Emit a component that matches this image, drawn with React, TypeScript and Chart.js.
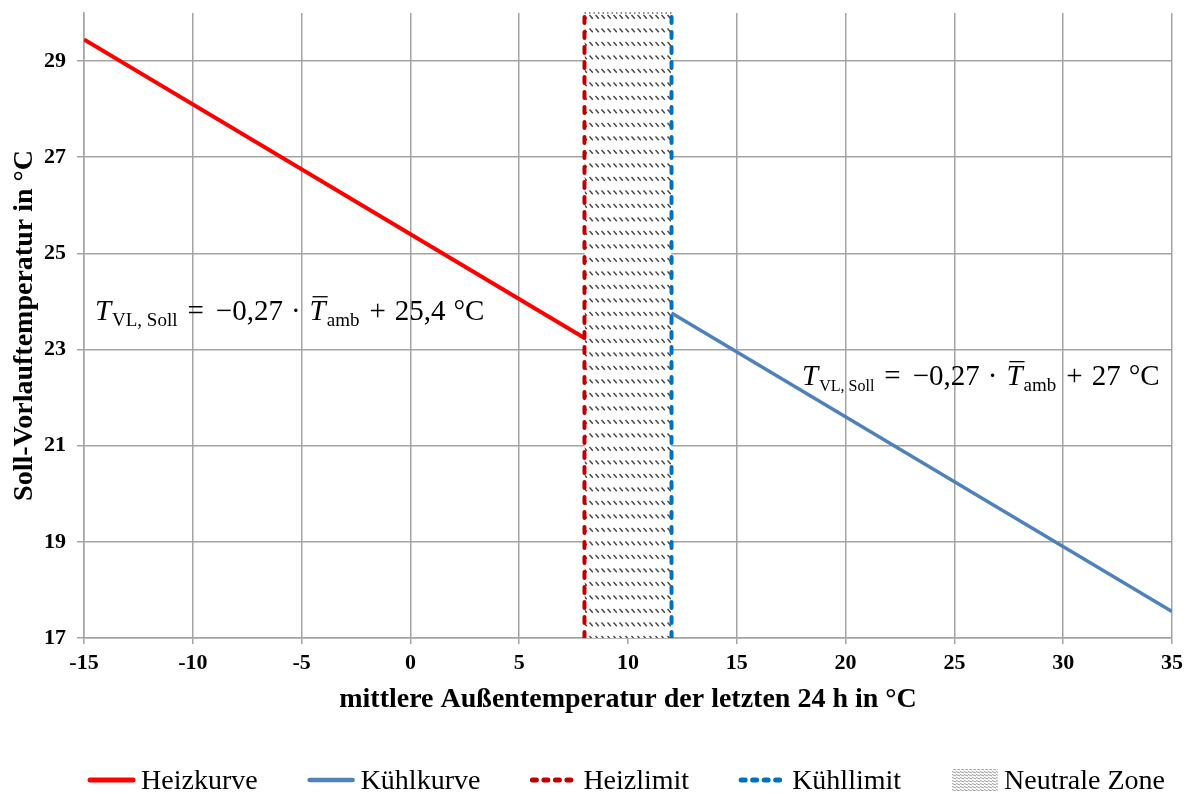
import React, { useEffect, useRef } from 'react';
import { Chart, registerables } from 'chart.js';

Chart.register(...registerables);

// ---- data ----
const xTickValues = [-15, -10, -5, 0, 5, 10, 15, 20, 25, 30, 35];
const yTickValues = [17, 19, 21, 23, 25, 27, 29];
const xRange = [-15, 35];
const yRange = [17, 30];

const heizkurveX = [-15, 8];
const heizkurveY = [29.45, 23.24];
const kuehlkurveX = [12, 35];
const kuehlkurveY = [23.76, 17.55];
const heizlimitX = [8, 8];
const kuehllimitX = [12, 12];
const limitY = [17, 30];
const neutralZoneX = [8, 12];
const neutralZoneY = [30, 30];

const seriesLabels = ['Heizkurve', 'Kühlkurve', 'Heizlimit', 'Kühllimit', 'Neutrale Zone'];
const xTitle = 'mittlere Außentemperatur der letzten 24 h in °C';
const yTitle = 'Soll-Vorlauftemperatur in °C';

const formulaSlope = '−0,27';
const formulaHeizConst = '25,4';
const formulaKuehlConst = '27';
const formulaHeizAnchor = [-14.5, 23.62];
const formulaKuehlAnchor = [18.0, 22.27];

// ---- styles ----
const SERIF = '"Liberation Serif", "Times New Roman", serif';
const GRID = '#a3a3a3';

const zip = (xs: number[], ys: number[]) => xs.map((x, i) => ({ x, y: ys[i] }));

function makeZonePattern(ctx: CanvasRenderingContext2D) {
  const c = document.createElement('canvas');
  c.width = 6;
  c.height = 27;
  const g = c.getContext('2d')!;
  g.fillStyle = '#ffffff';
  g.fillRect(0, 0, 6, 27);
  g.strokeStyle = '#444444';
  g.lineWidth = 1.4;
  g.lineCap = 'butt';
  for (const cy of [3.5, 17]) {
    g.beginPath();
    g.moveTo(1.5, cy - 2);
    g.lineTo(4.8, cy + 1.8);
    g.stroke();
  }
  return ctx.createPattern(c, 'repeat')!;
}

function makeLegendPattern(ctx: CanvasRenderingContext2D) {
  const c = document.createElement('canvas');
  c.width = 4;
  c.height = 3;
  const g = c.getContext('2d')!;
  g.fillStyle = '#ffffff';
  g.fillRect(0, 0, 4, 3);
  g.strokeStyle = '#9a9a9a';
  g.lineWidth = 1;
  g.beginPath();
  g.moveTo(0, 0.5);
  g.lineTo(4, 2);
  g.stroke();
  return ctx.createPattern(c, 'repeat')!;
}

function drawFormula(ctx: CanvasRenderingContext2D, x0: number, y0: number, konst: string, subSize: number) {
  const main = `29px ${SERIF}`;
  const ital = `italic 29px ${SERIF}`;
  const sub1 = `${subSize}px ${SERIF}`;
  const sub = `19px ${SERIF}`;
  const parts = [
    { t: 'T', f: ital, gap: 0, dy: 0, bar: false },
    { t: 'VL, Soll', f: sub1, gap: 1, dy: 6, bar: false },
    { t: '=', f: main, gap: 10, dy: 0, bar: false },
    { t: formulaSlope, f: main, gap: 12, dy: 0, bar: false },
    { t: '·', f: main, gap: 8, dy: 0, bar: false },
    { t: 'T', f: ital, gap: 9, dy: 0, bar: true },
    { t: 'amb', f: sub, gap: 1, dy: 6, bar: false },
    { t: '+', f: main, gap: 10, dy: 0, bar: false },
    { t: konst, f: main, gap: 9, dy: 0, bar: false },
    { t: '°C', f: main, gap: 8, dy: 0, bar: false },
  ];
  ctx.save();
  ctx.fillStyle = '#000';
  ctx.textBaseline = 'alphabetic';
  ctx.textAlign = 'left';
  let x = x0;
  for (const p of parts) {
    x += p.gap;
    ctx.font = p.f;
    ctx.fillText(p.t, x, y0 + p.dy);
    const w = ctx.measureText(p.t).width;
    if (p.bar) {
      ctx.strokeStyle = '#000';
      ctx.lineWidth = 1.3;
      ctx.beginPath();
      ctx.moveTo(x + 3, y0 - 23);
      ctx.lineTo(x + w + 2, y0 - 23);
      ctx.stroke();
    }
    x += w;
  }
  ctx.restore();
}

const overlayPlugin = {
  id: 'overlay',
  afterDatasetsDraw(chart: any) {
    const { ctx, scales } = chart;
    drawFormula(ctx, scales.x.getPixelForValue(formulaHeizAnchor[0]), scales.y.getPixelForValue(formulaHeizAnchor[1]), formulaHeizConst, 19);
    drawFormula(ctx, scales.x.getPixelForValue(formulaKuehlAnchor[0]), scales.y.getPixelForValue(formulaKuehlAnchor[1]), formulaKuehlConst, 16);
  },
  afterDraw(chart: any) {
    const { ctx, chartArea } = chart;
    const ds = chart.data.datasets;
    const sample = 49;
    const g1 = 5;
    const g2 = 49;
    ctx.save();
    ctx.font = `28px ${SERIF}`;
    const widths = ds.map((d: any) => ctx.measureText(d.label).width);
    let total = 0;
    widths.forEach((w: number) => (total += sample + g1 + w));
    total += g2 * (ds.length - 1);
    let x = (chartArea.left + chartArea.right) / 2 - 2 - total / 2;
    const yLine = 780;
    const yBase = 789;
    ds.forEach((d: any, i: number) => {
      if (d.legendBox) {
        ctx.fillStyle = makeLegendPattern(ctx);
        ctx.fillRect(x + 2, yLine - 11, sample - 3, 22);
      } else {
        ctx.strokeStyle = d.borderColor;
        ctx.lineWidth = d.borderWidth + 1;
        ctx.lineCap = 'round';
        ctx.setLineDash(d.borderDash ? [4, 7.5] : []);
        ctx.beginPath();
        ctx.moveTo(x + 3, yLine);
        ctx.lineTo(x + sample - 3, yLine);
        ctx.stroke();
        ctx.setLineDash([]);
      }
      x += sample + g1;
      ctx.fillStyle = '#000';
      ctx.textBaseline = 'alphabetic';
      ctx.fillText(d.label, x, yBase);
      x += widths[i] + g2;
    });
    ctx.restore();
  },
};

export default function App() {
  const ref = useRef<HTMLCanvasElement>(null);
  useEffect(() => {
    const canvas = ref.current!;
    const ctx = canvas.getContext('2d')!;
    const chart = new Chart(ctx, {
      type: 'line',
      data: {
        datasets: [
          {
            label: seriesLabels[0],
            data: zip(heizkurveX, heizkurveY),
            borderColor: '#ff0000',
            borderWidth: 4,
            pointRadius: 0,
            fill: false,
            order: 2,
          },
          {
            label: seriesLabels[1],
            data: zip(kuehlkurveX, kuehlkurveY),
            borderColor: '#4f81bd',
            borderWidth: 3.5,
            pointRadius: 0,
            fill: false,
            order: 2,
          },
          {
            label: seriesLabels[2],
            data: zip(heizlimitX, limitY),
            borderColor: '#c00000',
            borderWidth: 4,
            borderDash: [6, 9],
            borderCapStyle: 'round',
            pointRadius: 0,
            fill: false,
            order: 1,
          },
          {
            label: seriesLabels[3],
            data: zip(kuehllimitX, limitY),
            borderColor: '#0070c0',
            borderWidth: 4,
            borderDash: [6, 9],
            borderCapStyle: 'round',
            pointRadius: 0,
            fill: false,
            order: 1,
          },
          {
            label: seriesLabels[4],
            data: zip(neutralZoneX, neutralZoneY),
            borderColor: '#666666',
            borderWidth: 1.5,
            borderDash: [1.5, 3],
            backgroundColor: makeZonePattern(ctx),
            pointRadius: 0,
            fill: 'start',
            clip: 6,
            order: 5,
            legendBox: true,
          } as any,
        ],
      },
      options: {
        responsive: false,
        animation: false,
        devicePixelRatio: 1,
        layout: { padding: { left: 0, top: 13, right: 20, bottom: 76 } },
        plugins: { legend: { display: false }, tooltip: { enabled: false } },
        scales: {
          x: {
            type: 'linear',
            min: xRange[0],
            max: xRange[1],
            afterBuildTicks: (s: any) => {
              s.ticks = xTickValues.map((v) => ({ value: v }));
            },
            afterFit: (s: any) => {
              s.height = 80;
              s.paddingLeft = 0;
              s.paddingRight = 0;
            },
            grid: { color: GRID, lineWidth: 1.5, tickLength: 6, drawTicks: true },
            border: { color: GRID, width: 1.5 },
            ticks: {
              font: { family: SERIF, size: 22, weight: 'bold' },
              color: '#000',
              padding: 6,
              maxRotation: 0,
              autoSkip: false,
            },
            title: {
              display: true,
              text: xTitle,
              color: '#000',
              font: { family: SERIF, size: 28, weight: 'bold', lineHeight: 1 },
              padding: { top: 0, bottom: 4 },
            },
          },
          y: {
            type: 'linear',
            min: yRange[0],
            max: yRange[1],
            afterBuildTicks: (s: any) => {
              s.ticks = yTickValues.map((v) => ({ value: v }));
            },
            afterFit: (s: any) => {
              s.width = 84;
              s.paddingTop = 0;
              s.paddingBottom = 0;
            },
            grid: { color: GRID, lineWidth: 1.5, tickLength: 7, drawTicks: true },
            border: { color: GRID, width: 1.5 },
            ticks: {
              font: { family: SERIF, size: 22, weight: 'bold' },
              color: '#000',
              padding: 11,
              autoSkip: false,
            },
            title: {
              display: true,
              text: yTitle,
              color: '#000',
              font: { family: SERIF, size: 28, weight: 'bold', lineHeight: 1 },
              padding: { top: 11, bottom: 0 },
            },
          },
        },
      },
      plugins: [overlayPlugin],
    } as any);
    return () => chart.destroy();
  }, []);
  return (
    <div style={{ position: 'absolute', left: 0, top: 0, width: 1192, height: 794, background: '#fff' }}>
      <canvas ref={ref} width={1192} height={794} style={{ display: 'block', width: 1192, height: 794 }} />
    </div>
  );
}
